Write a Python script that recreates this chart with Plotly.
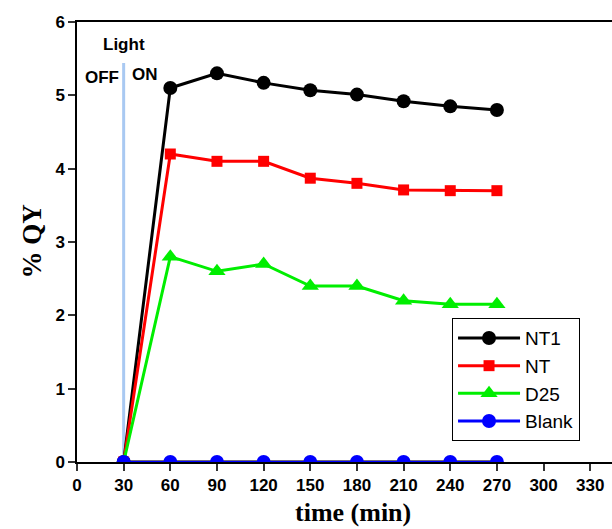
import plotly.graph_objects as go

time = [30, 60, 90, 120, 150, 180, 210, 240, 270]
nt1 = [0, 5.1, 5.3, 5.17, 5.07, 5.01, 4.92, 4.85, 4.8]
nt = [0, 4.2, 4.1, 4.1, 3.87, 3.8, 3.71, 3.7, 3.7]
d25 = [0, 2.8, 2.6, 2.7, 2.4, 2.4, 2.2, 2.15, 2.15]
blank = [0, 0, 0, 0, 0, 0, 0, 0, 0]
extra_yellow = [0, 0, 0, 0, 0, 0, 0, 0, 0]

light_x = [30, 30]
light_y = [0, 5.44]

x_ticks = list(range(0, 331, 30))
y_ticks = [0, 1, 2, 3, 4, 5, 6]

fig = go.Figure()

fig.add_trace(go.Scatter(x=light_x, y=light_y, mode="lines",
                         line=dict(color="#a9c9f2", width=3), showlegend=False, hoverinfo="skip"))
fig.add_trace(go.Scatter(x=time, y=extra_yellow, mode="lines",
                         line=dict(color="#e0d000", width=4), showlegend=False, hoverinfo="skip"))

fig.add_trace(go.Scatter(x=time, y=nt1, name="NT1", mode="lines+markers",
                         line=dict(color="black", width=3),
                         marker=dict(symbol="circle", size=14, color="black")))
fig.add_trace(go.Scatter(x=time, y=nt, name="NT", mode="lines+markers",
                         line=dict(color="#ff0000", width=3),
                         marker=dict(symbol="square", size=11, color="#ff0000")))
fig.add_trace(go.Scatter(x=time, y=d25, name="D25", mode="lines+markers",
                         line=dict(color="#00ee00", width=3),
                         marker=dict(symbol="triangle-up", size=15, color="#00ee00")))
fig.add_trace(go.Scatter(x=time, y=blank, name="Blank", mode="lines+markers",
                         line=dict(color="#0000ff", width=3),
                         marker=dict(symbol="circle", size=14, color="#0000ff")))

tickfont = dict(family="Liberation Sans, Arial", size=17, color="black")
sans = "Liberation Sans, Arial"
serif = "Liberation Serif, Times New Roman"

fig.update_layout(
    width=612, height=529,
    margin=dict(l=77, r=0, t=22, b=67),
    plot_bgcolor="white", paper_bgcolor="white",
    showlegend=True,
    legend=dict(x=0.701, y=0.327, xanchor="left", yanchor="top",
                bordercolor="black", borderwidth=1, bgcolor="white",
                font=dict(family=sans, size=19, color="black"),
                itemwidth=62, tracegroupgap=0),
    xaxis=dict(range=[0, 344], tickvals=x_ticks, ticktext=[f"<b>{v}</b>" for v in x_ticks],
               showgrid=False, zeroline=False, showline=True, linecolor="black", linewidth=1.5,
               mirror=True, ticks="outside", ticklen=7, tickwidth=1.5, tickcolor="#333",
               tickfont=tickfont),
    yaxis=dict(range=[0, 6], tickvals=y_ticks, ticktext=[f"<b>{v}</b>" for v in y_ticks],
               showgrid=False, zeroline=False, showline=True, linecolor="black", linewidth=1.5,
               ticks="outside", ticklen=7, tickwidth=1.5, tickcolor="#333",
               tickfont=tickfont),
    annotations=[
        dict(text="<b>Light</b>", x=30, y=5.69, xref="x", yref="y", showarrow=False,
             font=dict(family=sans, size=17, color="black")),
        dict(text="<b>OFF</b>", x=16, y=5.25, xref="x", yref="y", showarrow=False,
             font=dict(family=sans, size=17, color="black")),
        dict(text="<b>ON</b>", x=44, y=5.28, xref="x", yref="y", showarrow=False,
             font=dict(family=sans, size=17, color="black")),
        dict(text="<b>% QY</b>", x=-0.085, y=0.5, xref="paper", yref="paper", showarrow=False,
             textangle=-90, xanchor="center", yanchor="middle",
             font=dict(family=serif, size=27, color="black")),
        dict(text="<b>time (min)</b>", x=0.515, y=-0.152, xref="paper", yref="paper", showarrow=False,
             xanchor="center", yanchor="bottom",
             font=dict(family=serif, size=26, color="black")),
    ],
)

fig.write_html("out.html")
